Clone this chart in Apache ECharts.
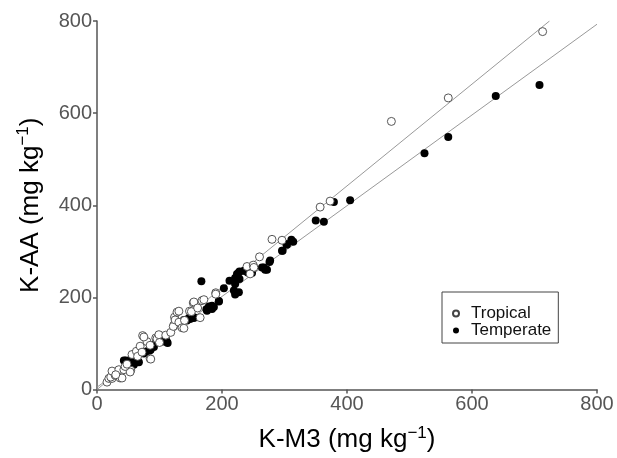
<!DOCTYPE html>
<html>
<head>
<meta charset="utf-8">
<script src="https://cdn.jsdelivr.net/npm/echarts@6/dist/echarts.min.js"></script>
<style>
  html, body { margin: 0; padding: 0; background: #fff; }
  #chart { width: 617px; height: 458px; }
</style>
</head>
<body>
<div id="chart"></div>
<script>
// values, [K-M3, K-AA] in mg/kg
const tropical = [
  [16, 16], [19, 24], [24, 24], [22, 27], [29, 31], [37, 25], [40, 25], [24, 40],
  [35, 43], [43, 43], [54, 42], [53, 38], [30, 32], [45, 50], [48, 55], [56, 76],
  [63, 83], [65, 72], [69, 94], [73, 117], [80, 104], [72, 81], [85, 67], [86, 66],
  [85, 96], [94, 112], [96, 110], [99, 119], [75, 114], [100, 102], [110, 118],
  [118, 124], [123, 140], [124, 157], [122, 137], [125, 151], [128, 168], [131, 146],
  [136, 134], [139, 133], [140, 150], [148, 170], [151, 169], [131, 170], [154, 188],
  [155, 190], [161, 177], [165, 156], [168, 193], [171, 195], [190, 210], [190, 207],
  [240, 267], [250, 270], [251, 265], [245, 251], [260, 288], [280, 326], [296, 324],
  [357, 396], [373, 409], [471, 582], [562, 633], [713, 777]
];
const temperate = [
  [43, 63], [46, 63], [48, 56], [50, 58], [54, 65], [59, 54], [62, 61], [66, 60],
  [67, 59], [72, 79], [75, 78], [78, 81], [80, 83], [85, 85], [86, 87], [91, 92],
  [91, 97], [107, 104], [107, 110], [110, 112], [112, 103], [113, 101], [139, 151],
  [144, 150], [147, 155], [149, 153], [155, 157], [155, 155], [167, 235], [175, 174],
  [176, 171], [179, 180], [181, 179], [184, 182], [184, 175], [187, 179], [195, 191],
  [195, 192], [203, 220], [212, 236], [219, 215], [221, 229], [221, 206], [227, 211],
  [221, 242], [224, 251], [227, 254], [228, 256], [228, 240], [235, 258], [237, 258],
  [241, 254], [243, 256], [248, 253], [264, 265], [267, 265], [269, 260], [272, 260],
  [277, 280], [276, 277], [296, 301], [297, 301], [304, 314], [303, 316], [311, 325],
  [314, 321], [350, 367], [363, 364], [379, 407], [405, 411], [524, 513], [562, 548],
  [638, 637], [708, 661]
];
// fitted lines (end points)
const tropicalFit = [[0, 0], [724, 800]];
const temperateFit = [[0, 5], [800, 793]];
const ticks = [0, 200, 400, 600, 800];

const font = '"Liberation Sans", Arial, sans-serif';
const chart = echarts.init(document.getElementById('chart'));

const axisCommon = {
  type: 'value',
  min: ticks[0],
  max: ticks[ticks.length - 1],
  interval: 200,
  splitLine: { show: false },
  axisLine: { show: true, lineStyle: { color: '#555', width: 1.5 } },
  axisTick: { show: true, length: 4, lineStyle: { color: '#555', width: 1.5 } },
  axisLabel: { color: '#555', fontSize: 20, fontFamily: font, margin: 5 },
  nameLocation: 'middle',
  nameTextStyle: {
    color: '#000', fontSize: 26, fontFamily: font,
    rich: {
      sup: { fontSize: 17, fontFamily: font, color: '#000', padding: [0, 0, 14, 0] }
    }
  }
};

chart.setOption({
  animation: false,
  backgroundColor: '#fff',
  grid: { left: 97, right: 20, top: 21, bottom: 67, containLabel: false },
  xAxis: Object.assign({}, axisCommon, {
    name: 'K-M3 (mg kg{sup|−1})',
    nameGap: 35
  }),
  yAxis: Object.assign({}, axisCommon, {
    name: 'K-AA (mg kg{sup|−1})',
    nameGap: 51
  }),
  legend: {
    orient: 'vertical',
    left: 442,
    top: 292,
    padding: [13, 7, 4, 10],
    itemGap: 0,
    itemWidth: 6,
    itemHeight: 6,
    borderColor: '#444',
    borderWidth: 1,
    icon: 'circle',
    textStyle: { color: '#111', fontSize: 17, fontFamily: font, lineHeight: 16, padding: [0, 0, 0, 7] },
    data: ['Tropical', 'Temperate']
  },
  series: [
    {
      name: 'Tropical fit', type: 'line', data: tropicalFit, showSymbol: false,
      lineStyle: { color: '#999', width: 1 }, silent: true, z: 1
    },
    {
      name: 'Temperate fit', type: 'line', data: temperateFit, showSymbol: false,
      lineStyle: { color: '#999', width: 1 }, silent: true, z: 1
    },
    {
      name: 'Tropical', type: 'scatter', data: tropical, symbolSize: 8,
      itemStyle: { color: '#fff', borderColor: '#444', borderWidth: 0.9, opacity: 1 }, z: 3
    },
    {
      name: 'Temperate', type: 'scatter', data: temperate, symbolSize: 8,
      itemStyle: { color: '#000', opacity: 1 }, z: 2
    }
  ]
});
</script>
</body>
</html>
